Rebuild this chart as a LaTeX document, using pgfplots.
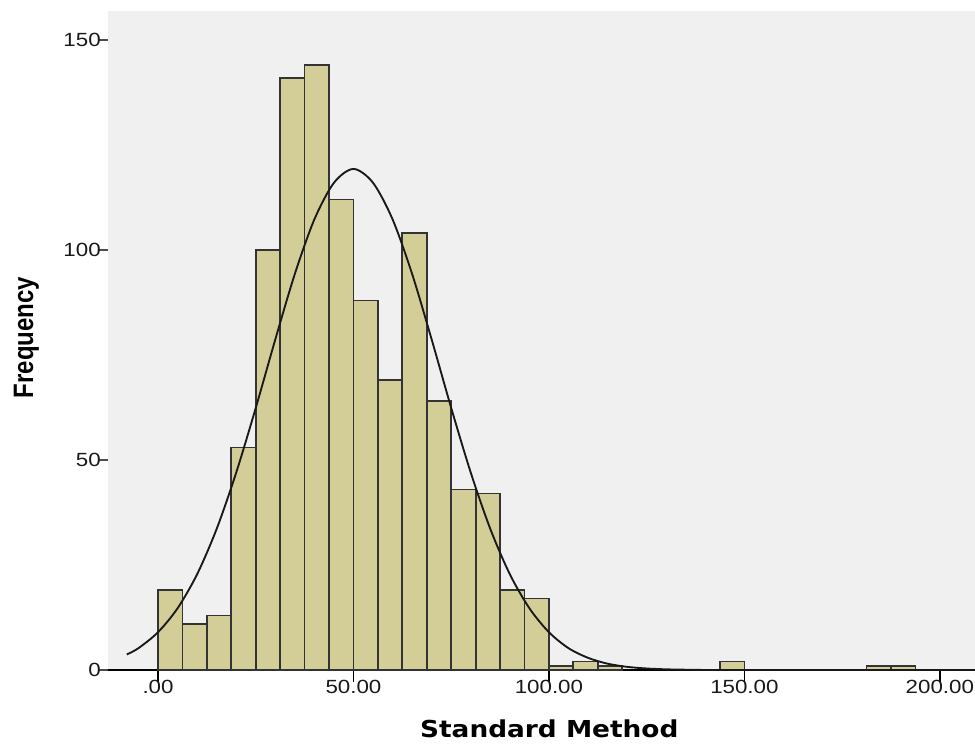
\documentclass[border=0pt]{standalone}
\usepackage{pgfplots}
\pgfplotsset{compat=1.18}
\usepackage{fontspec}
\setmainfont{Liberation Sans}
\newfontfamily\tickfont[FakeStretch=1.17]{Liberation Sans}
\newfontfamily\xlabfont[FakeStretch=1.13]{DejaVu Sans}
\newfontfamily\ylabfont{Liberation Sans}
\definecolor{bggray}{HTML}{F0F0F0}
\definecolor{barfill}{HTML}{D3CE97}
\begin{document}
\begin{tikzpicture}
\path[use as bounding box] (-81pt,-54.75pt) rectangle (650.25pt,502.5pt);
\begin{axis}[
  at={(0pt,0pt)}, anchor=south west,
  width=650.25pt, height=494.25pt, scale only axis,
  xmin=-12.8, xmax=209.0, ymin=0, ymax=156.9,
  axis background/.style={fill=bggray},
  separate axis lines,
  axis x line*=bottom, axis y line*=left,
  x axis line style={draw=black, line width=1.2pt, -},
  y axis line style={draw=none, -},
  tick align=outside,
  xtick={0,50,100,150,200},
  xticklabels={.00,50.00,100.00,150.00,200.00},
  ytick={0,50,100,150},
  yticklabels={0,50,100,150},
  x tick style={draw=black, line width=1.2pt},
  y tick style={draw=black!70, line width=1pt},
  xtick pos=bottom, ytick pos=left,
  x tick style={/pgfplots/major tick length=9pt},
  y tick style={/pgfplots/major tick length=7.5pt},
  ticklabel style={font=\tickfont\fontsize{14.3}{14.3}\selectfont, text=black!90},
  xticklabel style={inner sep=0pt, yshift=-3pt},
  yticklabel style={inner sep=0pt, xshift=-1pt},
  xlabel={\xlabfont\bfseries\fontsize{17.5}{17.5}\selectfont Standard Method},
  xlabel style={at={(axis description cs:0.509,-0.1030)}, anchor=base, inner sep=0pt},
  ylabel={\scalebox{1}[1.17]{\ylabfont\bfseries\fontsize{18}{18}\selectfont Frequency}},
  ylabel style={at={(axis description cs:-0.0865,0.5046)}, anchor=base, inner sep=0pt},
  clip=false,
]
\addplot[ybar interval, fill=barfill, draw=black!80, line width=1.3pt] coordinates {
(0,19) (6.25,11) (12.5,13) (18.75,53) (25,100) (31.25,141) (37.5,144) (43.75,112)
(50,88) (56.25,69) (62.5,104) (68.75,64) (75,43) (81.25,42) (87.5,19) (93.75,17)
(100,1) (106.25,2) (112.5,1) (118.75,1)
};
\addplot[ybar interval, fill=barfill, draw=black!80, line width=1.3pt] coordinates {
(143.75,2) (150,2)
};
\addplot[ybar interval, fill=barfill, draw=black!80, line width=1.3pt] coordinates {
(181.25,1) (187.5,1) (193.75,1)
};
\addplot[smooth, black!90, line width=1.4pt] coordinates {
(-8,3.7) (-5,5.2) (0,9.0) (5,14.7) (10,22.8) (15,33.6) (20,47.0) (25,62.4)
(30,78.7) (35,94.3) (40,107.3) (45,116.0) (50,119.3) (55,116.0) (60,107.3)
(65,94.3) (70,78.7) (75,62.4) (80,47.0) (85,33.6) (90,22.8) (95,14.7)
(100,9.0) (105,5.2) (110,2.9) (115,1.5) (120,0.75) (125,0.36) (130,0.16)
(135,0.07) (140,0.0)
};
\addplot[black!90, line width=1.4pt] coordinates {(140,0) (209,0)};
\draw[black, line width=1.2pt] (axis cs:-12.8,0) ++(-7.5pt,0) -- (axis cs:-12.8,0);
\end{axis}
\end{tikzpicture}
\end{document}
